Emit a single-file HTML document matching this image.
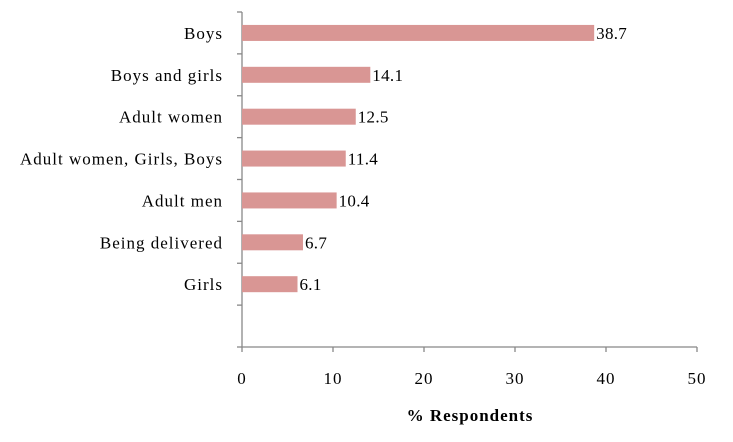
<!DOCTYPE html>
<html><head><meta charset="utf-8"><style>
body{margin:0;background:#fff;}
svg{display:block;font-family:"Liberation Serif",serif;}
</style></head><body>
<svg id="c" width="733" height="442"></svg>
<script>
const categories=["Boys","Boys and girls","Adult women","Adult women, Girls, Boys","Adult men","Being delivered","Girls"];
const values=[38.7,14.1,12.5,11.4,10.4,6.7,6.1];
const ticks=[0,10,20,30,40,50];
const ns="http://www.w3.org/2000/svg";
const svg=document.getElementById('c');
const plotLeft=242,plotRight=697,plotTop=12,plotBot=347,slots=8;
const slotH=(plotBot-plotTop)/slots;
const xs=v=>plotLeft+(v-0)/(50-0)*(plotRight-plotLeft);
const ys=i=>plotTop+slotH*(i+0.5);
function mk(t,a,txt){const e=document.createElementNS(ns,t);for(const k in a)e.setAttribute(k,a[k]);if(txt!=null)e.textContent=txt;svg.appendChild(e);return e;}
let e;
e=mk('line',{x1:plotLeft,y1:plotTop,x2:plotLeft,y2:plotBot,stroke:'#888','stroke-width':1.3});


e=mk('line',{x1:plotLeft,y1:plotBot,x2:plotRight,y2:plotBot,stroke:'#888','stroke-width':1.3});


for(let i=0;i<=slots;i++){
 e=mk('line',{x1:plotLeft-5,y1:plotTop+slotH*i,x2:plotLeft,y2:plotTop+slotH*i,stroke:'#888','stroke-width':1.3});
 
 
}
ticks.forEach(t=>{
 e=mk('line',{x1:xs(t),y1:plotBot,x2:xs(t),y2:plotBot+5,stroke:'#888','stroke-width':1.3});
 
 
 e=mk('text',{x:xs(t),y:plotBot+37,'text-anchor':'middle','font-size':17,'letter-spacing':1},t);
 
 
});
categories.forEach((c,i)=>{
 const y=ys(i);
 e=mk('rect',{x:plotLeft,y:y-8,width:xs(values[i])-plotLeft,height:16,fill:'#d99694'});
 
 
 e=mk('text',{x:xs(values[i])+2,y:y+6,'font-size':17,'letter-spacing':0.3},values[i].toFixed(1));
 
 
 e=mk('text',{x:223,y:y+6,'text-anchor':'end','font-size':17,'letter-spacing':1},c);
 
 
});
e=mk('text',{x:470,y:421,'text-anchor':'middle','font-size':17,'font-weight':'bold','letter-spacing':1},'% Respondents');


</script>
</body></html>
